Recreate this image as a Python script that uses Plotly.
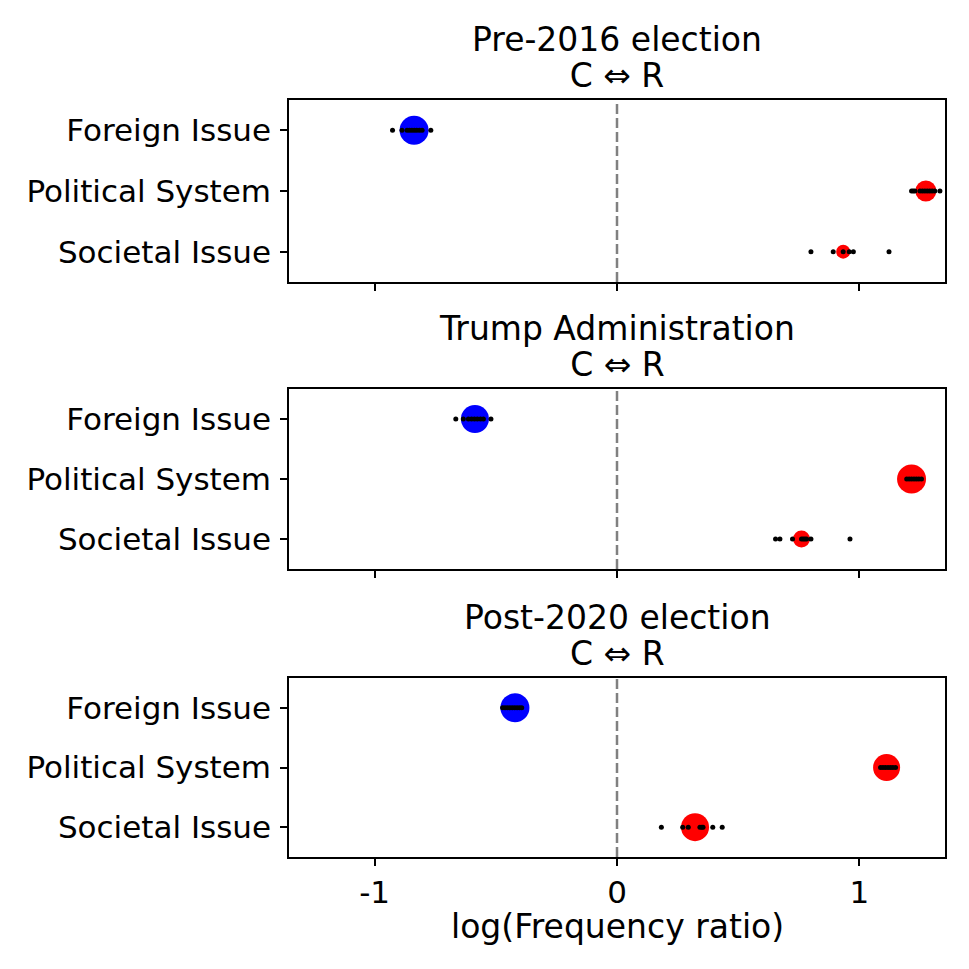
import plotly.graph_objects as go

# ---------------- data ----------------
categories = ["Foreign Issue", "Political System", "Societal Issue"]
periods = ["Pre-2016 election", "Trump Administration", "Post-2020 election"]
subtitle = "C \u21d4 R"

pre_mean = [-0.837, 1.274, 0.933]
trump_mean = [-0.586, 1.215, 0.761]
post_mean = [-0.421, 1.112, 0.322]

# relative weight of each category (drawn as circle size)
pre_weight = [29, 21, 14]
trump_weight = [28, 29, 17]
post_weight = [29, 27, 28]

pre_foreign = [-0.926, -0.887, -0.866, -0.856, -0.846, -0.836, -0.826, -0.815, -0.804, -0.768]
pre_political = [1.215, 1.222, 1.229, 1.250, 1.260, 1.270, 1.280, 1.290, 1.300, 1.311, 1.332]
pre_societal = [0.800, 0.892, 0.933, 0.958, 0.975, 1.122]

trump_foreign = [-0.665, -0.634, -0.613, -0.600, -0.588, -0.576, -0.563, -0.551, -0.520]
trump_political = [1.195, 1.205, 1.215, 1.225, 1.235, 1.245, 1.256]
trump_societal = [0.654, 0.672, 0.724, 0.761, 0.768, 0.775, 0.782, 0.800, 0.961]

post_foreign = [-0.472, -0.462, -0.452, -0.442, -0.432, -0.422, -0.412, -0.402, -0.393]
post_political = [1.087, 1.097, 1.107, 1.118, 1.128, 1.138, 1.149]
post_societal = [0.183, 0.271, 0.294, 0.342, 0.350, 0.355, 0.395, 0.434]

x_ticks = [-1, 0, 1]
x_tick_labels = ["-1", "0", "1"]
x_label = "log(Frequency ratio)"

means = [pre_mean, trump_mean, post_mean]
weights = [pre_weight, trump_weight, post_weight]
samples = [
    [pre_foreign, pre_political, pre_societal],
    [trump_foreign, trump_political, trump_societal],
    [post_foreign, post_political, post_societal],
]

# ---------------- layout ----------------
W = H = 969
FONT = "DejaVu Sans"
x_dom = [289 / W, 945 / W]
panel_px = [(100, 282), (389, 569), (678, 857)]
xr = [-1.353, 1.353]

fig = go.Figure()
layout = dict(
    width=W, height=H,
    margin=dict(l=0, r=0, t=0, b=0),
    paper_bgcolor="white", plot_bgcolor="white",
    showlegend=False,
    font=dict(family=FONT, color="black"),
)

annotations = []
shapes = []
for i in range(3):
    n = "" if i == 0 else str(i + 1)
    xa, ya = "x" + n, "y" + n
    top, bot = panel_px[i]
    layout["xaxis" + n] = dict(
        domain=x_dom, range=xr, anchor=ya,
        tickvals=x_ticks, ticktext=x_tick_labels,
        showticklabels=(i == 2),
        ticks="outside", ticklen=7, tickwidth=1.5, tickcolor="black",
        showline=True, mirror=True, linecolor="black", linewidth=1.5,
        showgrid=False, zeroline=False,
        tickfont=dict(family=FONT, size=31, color="black"),
    )
    layout["yaxis" + n] = dict(
        domain=[1 - bot / H, 1 - top / H], anchor=xa,
        type="category", categoryorder="array", categoryarray=categories,
        range=[2.5, -0.5],
        ticks="outside", ticklen=7, tickwidth=1.5, tickcolor="black",
        ticklabelstandoff=3,
        showline=True, mirror=True, linecolor="black", linewidth=1.5,
        showgrid=False, zeroline=False,
        tickfont=dict(family=FONT, size=31, color="black"),
    )
    # dashed zero line
    shapes.append(dict(
        type="line", xref=xa, yref=ya + " domain", x0=0, x1=0, y0=0, y1=1,
        line=dict(color="#808080", width=2.5, dash="10px,4px"), layer="below",
    ))
    # circles
    colors = ["#0000ff" if v < 0 else "#ff0000" for v in means[i]]
    fig.add_trace(go.Scatter(
        x=means[i], y=categories, xaxis=xa, yaxis=ya, mode="markers",
        opacity=1,
        marker=dict(size=weights[i], color=colors, opacity=1, line=dict(width=0)),
        hoverinfo="x+y",
    ))
    # sample dots
    for c, cat in enumerate(categories):
        fig.add_trace(go.Scatter(
            x=samples[i][c], y=[cat] * len(samples[i][c]), xaxis=xa, yaxis=ya,
            mode="markers", opacity=1,
            marker=dict(size=5, color="black", opacity=1, line=dict(width=0)),
            hoverinfo="x+y",
        ))
    # two-line title; base font 28 sets the line spacing, spans render at 33px
    title_text = (
        '<span style="font-size:33px">' + periods[i] + '</span><br>'
        '<span style="font-size:33px">' + subtitle + '</span>'
    )
    annotations.append(dict(
        text=title_text, xref="paper", yref="paper",
        x=(x_dom[0] + x_dom[1]) / 2, y=1 - (top - 43) / H,
        xanchor="center", yanchor="middle", showarrow=False,
        font=dict(family=FONT, size=28, color="black"),
    ))

annotations.append(dict(
    text=x_label, xref="paper", yref="paper",
    x=(x_dom[0] + x_dom[1]) / 2, y=1 - 926 / H,
    xanchor="center", yanchor="middle", showarrow=False,
    font=dict(family=FONT, size=33, color="black"),
))
layout["annotations"] = annotations
layout["shapes"] = shapes
fig.update_layout(**layout)
fig.write_html(
    "out.html",
    config={"displayModeBar": False},
    post_script="document.body.style.margin='0';document.body.style.overflow='hidden';",
)
